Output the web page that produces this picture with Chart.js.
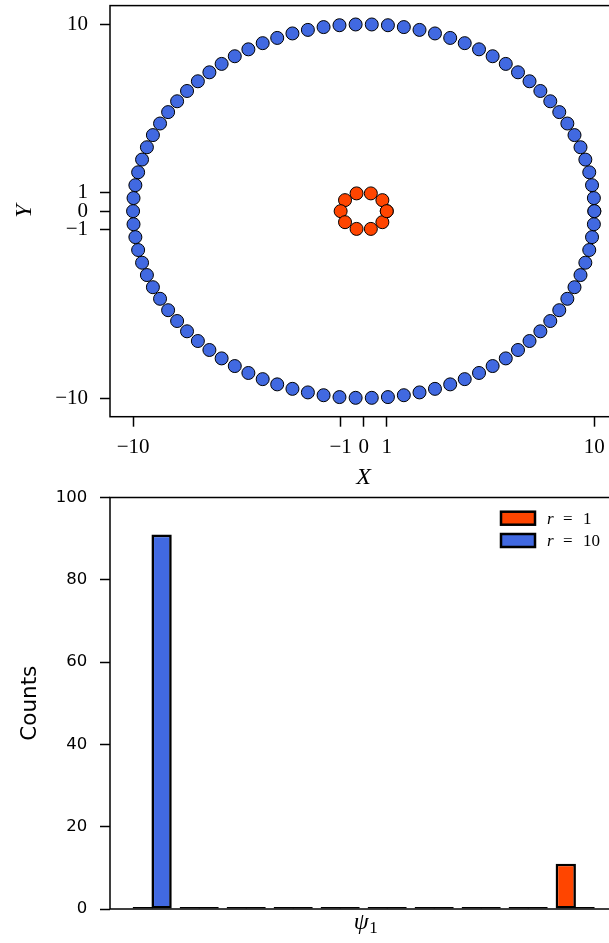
<!DOCTYPE html>
<html>
<head>
<meta charset="utf-8">
<script src="https://cdn.jsdelivr.net/npm/chart.js@4.4.1/dist/chart.umd.min.js"></script>
<style>
html, body { margin: 0; padding: 0; background: #fff; overflow: hidden; width: 609px; height: 943px; }
canvas { position: absolute; left: 0; }
#scatterChart { top: 0; }
#histChart { top: 480px; }
</style>
</head>
<body>
<canvas id="scatterChart" width="620" height="495"></canvas>
<canvas id="histChart" width="620" height="463"></canvas>
<script>
// outer ring, r = 10 (91 points, first and last coincide)
const outerX = [
  10.00, 9.98, 9.90, 9.78, 9.61, 9.40, 9.14, 8.83, 8.48, 8.09, 7.66, 7.19, 6.69, 6.16, 5.59, 5.00, 4.38, 3.75, 3.09, 2.42, 1.74, 1.05, 0.35,
  -0.35, -1.05, -1.74, -2.42, -3.09, -3.75, -4.38, -5.00, -5.59, -6.16, -6.69, -7.19, -7.66, -8.09, -8.48, -8.83, -9.14, -9.40, -9.61, -9.78, -9.90, -9.98,
  -10.00, -9.98, -9.90, -9.78, -9.61, -9.40, -9.14, -8.83, -8.48, -8.09, -7.66, -7.19, -6.69, -6.16, -5.59, -5.00, -4.38, -3.75, -3.09, -2.42, -1.74, -1.05, -0.35,
  0.35, 1.05, 1.74, 2.42, 3.09, 3.75, 4.38, 5.00, 5.59, 6.16, 6.69, 7.19, 7.66, 8.09, 8.48, 8.83, 9.14, 9.40, 9.61, 9.78, 9.90, 9.98,
  10.00
];
const outerY = [
  0.00, 0.70, 1.39, 2.08, 2.76, 3.42, 4.07, 4.69, 5.30, 5.88, 6.43, 6.95, 7.43, 7.88, 8.29, 8.66, 8.99, 9.27, 9.51, 9.70, 9.85, 9.95, 9.99,
  9.99, 9.95, 9.85, 9.70, 9.51, 9.27, 8.99, 8.66, 8.29, 7.88, 7.43, 6.95, 6.43, 5.88, 5.30, 4.69, 4.07, 3.42, 2.76, 2.08, 1.39, 0.70,
  0.00, -0.70, -1.39, -2.08, -2.76, -3.42, -4.07, -4.69, -5.30, -5.88, -6.43, -6.95, -7.43, -7.88, -8.29, -8.66, -8.99, -9.27, -9.51, -9.70, -9.85, -9.95, -9.99,
  -9.99, -9.95, -9.85, -9.70, -9.51, -9.27, -8.99, -8.66, -8.29, -7.88, -7.43, -6.95, -6.43, -5.88, -5.30, -4.69, -4.07, -3.42, -2.76, -2.08, -1.39, -0.70,
  0.00
];

// inner ring, r = 1 (11 points)
const innerX = [1.00, 0.81, 0.31, -0.31, -0.81, -1.00, -0.81, -0.31, 0.31, 0.81, 1.00];
const innerY = [0.00, 0.59, 0.95, 0.95, 0.59, 0.00, -0.59, -0.95, -0.95, -0.59, 0.00];

const xTicks = [-10, -1, 0, 1, 10];
const yTicks = [-10, -1, 0, 1, 10];

// histogram of psi_1, 10 bins
const binCenters = [0.5, 1.5, 2.5, 3.5, 4.5, 5.5, 6.5, 7.5, 8.5, 9.5];
const countsR1 = [0, 0, 0, 0, 0, 0, 0, 0, 0, 11];
const countsR10 = [91, 0, 0, 0, 0, 0, 0, 0, 0, 0];

const blue = '#4169E1';
const orange = '#FF4500';
const serif = 'Liberation Serif';
const sans = 'DejaVu Sans';

const fmt = v => v < 0 ? '\u2212' + Math.abs(v) : String(v);

const boxPlugin = {
  id: 'box',
  afterDatasetsDraw(chart) {
    const a = chart.chartArea;
    const ctx = chart.ctx;
    ctx.save();
    ctx.strokeStyle = '#000';
    ctx.lineWidth = 1.5;
    ctx.strokeRect(a.left, a.top, a.right - a.left, a.bottom - a.top);
    ctx.restore();
  }
};

const legendPlugin = {
  id: 'histLegend',
  afterDraw(chart) {
    const a = chart.chartArea;
    const ctx = chart.ctx;
    ctx.save();
    chart.data.datasets.forEach((ds, i) => {
      const top = a.top + 14.2 + i * 22.3;
      const left = a.right - 116;
      ctx.fillStyle = ds.backgroundColor;
      ctx.fillRect(left, top, 34, 13);
      ctx.strokeStyle = '#000';
      ctx.lineWidth = 2.5;
      ctx.strokeRect(left, top, 34, 13);
      const parts = ds.label.split(' = ');
      const cy = top + 7.5;
      ctx.fillStyle = '#000';
      ctx.textBaseline = 'middle';
      ctx.textAlign = 'left';
      ctx.font = 'italic 17px "' + serif + '"';
      ctx.fillText(parts[0], left + 46, cy);
      ctx.font = '17px "' + serif + '"';
      ctx.fillText('=', left + 62, cy);
      ctx.fillText(parts[1], left + 82, cy);
    });
    ctx.restore();
  }
};

// x label psi with an upright subscript 1
const psiLabelPlugin = {
  id: 'psiLabel',
  afterDraw(chart) {
    const a = chart.chartArea;
    const ctx = chart.ctx;
    ctx.save();
    ctx.fillStyle = '#000';
    ctx.textBaseline = 'alphabetic';
    ctx.textAlign = 'left';
    const bigFont = 'italic 24px "' + serif + '"';
    const subFont = '17px "' + serif + '"';
    ctx.font = bigFont;
    const w1 = ctx.measureText('\u03C8').width;
    ctx.font = subFont;
    const w2 = ctx.measureText('1').width;
    const x0 = (a.left + a.right) / 2 + 2 - (w1 + w2) / 2;
    const base = a.bottom + 20;
    ctx.font = bigFont;
    ctx.fillText('\u03C8', x0, base);
    ctx.font = subFont;
    ctx.fillText('1', x0 + w1 + 0.5, base + 4);
    ctx.restore();
  }
};

const tickGrid = { drawOnChartArea: false, drawTicks: true, tickLength: 10, tickColor: '#000', tickWidth: 1.5 };

// fixed axis sizes, and no extra padding from the end labels
const fitX = h => s => { s.height = h; s.paddingLeft = 0; s.paddingRight = 0; };
const fitY = w => s => { s.width = w; s.paddingTop = 0; s.paddingBottom = 0; };

const scatterChart = new Chart(document.querySelector('#scatterChart'), {
  type: 'scatter',
  data: {
    datasets: [
      {
        label: 'r = 10',
        data: outerX.map((x, i) => ({ x: x, y: outerY[i] })),
        backgroundColor: blue,
        borderColor: '#000',
        borderWidth: 1,
        pointRadius: 6.5
      },
      {
        label: 'r = 1',
        data: innerX.map((x, i) => ({ x: x, y: innerY[i] })),
        backgroundColor: orange,
        borderColor: '#000',
        borderWidth: 1,
        pointRadius: 6.5
      }
    ]
  },
  options: {
    responsive: false,
    animation: false,
    devicePixelRatio: 1,
    layout: { autoPadding: false, padding: { left: 0, right: 2.6, top: 5.6, bottom: 0 } },
    plugins: { legend: { display: false }, tooltip: { enabled: false } },
    scales: {
      x: {
        type: 'linear', min: -11, max: 11,
        afterBuildTicks: s => { s.ticks = xTicks.map(v => ({ value: v })); },
        afterFit: fitX(78.3),
        grid: tickGrid,
        border: { display: false },
        ticks: { autoSkip: false, maxRotation: 0, minRotation: 0, padding: 8, color: '#000', font: { family: serif, size: 21 }, callback: fmt },
        title: { display: true, text: 'X', color: '#000', font: { family: serif, size: 24, style: 'italic' }, padding: { top: 0, bottom: 2.6 } }
      },
      y: {
        type: 'linear', min: -11, max: 11,
        afterBuildTicks: s => { s.ticks = yTicks.map(v => ({ value: v })); },
        afterFit: fitY(110),
        grid: tickGrid,
        border: { display: false },
        ticks: { autoSkip: false, padding: 12, color: '#000', font: { family: serif, size: 21 }, callback: fmt },
        title: { display: true, text: 'Y', color: '#000', font: { family: serif, size: 24, style: 'italic' }, padding: { top: 10.6, bottom: 0 } }
      }
    }
  },
  plugins: [boxPlugin]
});

const histChart = new Chart(document.querySelector('#histChart'), {
  type: 'bar',
  data: {
    datasets: [
      {
        label: 'r = 1',
        data: binCenters.map((x, i) => ({ x: x, y: countsR1[i] })),
        backgroundColor: orange
      },
      {
        label: 'r = 10',
        data: binCenters.map((x, i) => ({ x: x, y: countsR10[i] })),
        backgroundColor: blue
      }
    ]
  },
  options: {
    responsive: false,
    animation: false,
    devicePixelRatio: 1,
    layout: { autoPadding: false, padding: { left: 0, right: 3, top: 17.5, bottom: 0 } },
    datasets: {
      bar: {
        borderColor: '#000', borderWidth: 2.6, borderSkipped: false, minBarLength: 2,
        categoryPercentage: 0.8, barPercentage: 1.08, clip: false
      }
    },
    plugins: { legend: { display: false }, tooltip: { enabled: false } },
    scales: {
      x: {
        type: 'linear', min: -0.398, max: 10.39, offset: false,
        afterBuildTicks: s => { s.ticks = []; },
        afterFit: fitX(34),
        grid: { display: false },
        border: { display: false },
        ticks: { display: false },
        title: { display: false }
      },
      y: {
        min: 0, max: 100,
        afterFit: fitY(110),
        grid: tickGrid,
        border: { display: false },
        ticks: { stepSize: 20, padding: 12.7, color: '#000', font: { family: sans, size: 16.5 } },
        title: { display: true, text: 'Counts', color: '#000', font: { family: sans, size: 21.5 }, padding: { top: 18, bottom: 0 } }
      }
    }
  },
  plugins: [boxPlugin, legendPlugin, psiLabelPlugin]
});
</script>
</body>
</html>
